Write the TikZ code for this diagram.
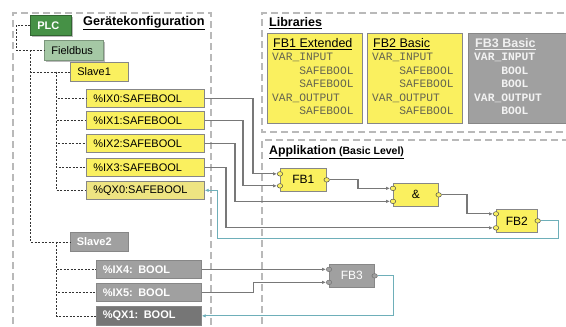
\documentclass[tikz,border=0pt]{standalone}
\usepackage{fontspec}
\setmainfont{Liberation Sans}
\setmonofont{Liberation Mono}
\usetikzlibrary{arrows.meta,shapes.geometric,shadows,calc}
\definecolor{yel}{RGB}{250,240,95}
\definecolor{yelq}{RGB}{238,228,130}
\definecolor{bord}{RGB}{135,135,135}
\definecolor{plcg}{RGB}{70,145,70}
\definecolor{fbg}{RGB}{165,200,165}
\definecolor{gbox}{RGB}{160,160,160}
\definecolor{gdark}{RGB}{118,118,118}
\definecolor{framec}{RGB}{185,185,185}
\definecolor{wirec}{RGB}{120,120,120}
\definecolor{cyanw}{RGB}{110,175,185}
\definecolor{codec}{RGB}{100,100,80}
\begin{document}
\begin{tikzpicture}[x=1pt,y=-1pt,
  frame/.style={draw=framec,line width=1.8pt,dash pattern=on 7pt off 4pt},
  tree/.style={draw=black!80,line width=0.6pt,dash pattern=on 2pt off 1.5pt},
  cfg/.style={rectangle,draw=bord,line width=0.7pt,anchor=north west,inner xsep=7pt,inner ysep=0pt,align=left,font=\fontsize{11}{12}\selectfont},
  ycfg/.style={cfg,fill=yel},
  gcfg/.style={cfg,fill=gbox,text=white,font=\fontsize{11}{12}\selectfont\bfseries,inner xsep=6.5pt},
  fbblock/.style={rectangle,draw=bord,line width=0.7pt,anchor=north west,inner sep=0pt,font=\fontsize{12}{14}\selectfont},
  fbpin/.style={ellipse,draw=black!70,fill=yel,line width=0.5pt,minimum width=5.5pt,minimum height=4.5pt,inner sep=0pt},
  gpin/.style={fbpin,fill=gbox,draw=black!55},
  wire/.style={draw=wirec,line width=1.1pt,-{Latex[length=4pt,width=3.5pt]}},
  cwire/.style={draw=cyanw,line width=1.1pt,-{Latex[length=4pt,width=3.5pt]}},
  libbox/.style={rectangle,draw=bord,line width=0.7pt,anchor=north west,inner sep=0pt},
  code/.style={anchor=north west,inner sep=0pt,align=left,font=\fontsize{11.3}{13.5}\selectfont\ttfamily}
]
\useasboundingbox (0,0) rectangle (566,327);
% frames
\draw[frame] (13,335) -- (13,13) -- (211,13) -- (211,335);
\draw[frame] (575,13) -- (262,13) -- (262,132) -- (575,132);
\draw[frame] (262,335) -- (262,140) -- (575,140);
% titles
\node[anchor=west,inner sep=0pt,font=\fontsize{12.7}{14}\selectfont\bfseries] (tgk) at (83,23) {\underline{Gerätekonfiguration}};
\node[anchor=west,inner sep=0pt,font=\fontsize{12.5}{14}\selectfont\bfseries] (tlib) at (269,23) {\underline{Libraries}};
\node[anchor=west,inner sep=0pt] (tapp) at (269,152) {\underline{\fontsize{12.3}{14}\selectfont\bfseries Applikation\hspace{3pt}\fontsize{10.5}{12}\selectfont (Basic Level)}};
% config tree
\node[cfg,fill=plcg,draw=plcg!70!black,text=white,font=\fontsize{11}{12}\selectfont\bfseries,text width=27pt,minimum height=20pt,drop shadow={shadow xshift=1.5pt,shadow yshift=-1.5pt,fill=black!45,opacity=0.6}] (plc) at (30,15) {PLC};
\node[cfg,fill=fbg,draw=fbg!75!black,text width=45pt,minimum height=20pt,drop shadow={shadow xshift=1.5pt,shadow yshift=-1.5pt,fill=black!45,opacity=0.6}] (fb) at (44,40) {Fieldbus};
\node[ycfg,text width=44pt,minimum height=19pt] (s1) at (70,62) {Slave1};
\node[ycfg,text width=104pt,minimum height=18pt] (ix0) at (86,89) {\%IX0:SAFEBOOL};
\node[ycfg,text width=104pt,minimum height=18pt] (ix1) at (86,111) {\%IX1:SAFEBOOL};
\node[ycfg,text width=104pt,minimum height=18pt] (ix2) at (86,134) {\%IX2:SAFEBOOL};
\node[ycfg,text width=104pt,minimum height=18pt] (ix3) at (86,158) {\%IX3:SAFEBOOL};
\node[ycfg,fill=yelq,text width=104pt,minimum height=18pt] (qx0) at (86,181) {\%QX0:SAFEBOOL};
\node[gcfg,text width=45pt,minimum height=19pt] (s2) at (70,232) {Slave2};
\node[gcfg,text width=92pt,minimum height=18pt] (ix4) at (96,260) {\%IX4: BOOL};
\node[gcfg,text width=92pt,minimum height=18pt] (ix5) at (96,283) {\%IX5: BOOL};
\node[gcfg,fill=gdark,text width=92pt,minimum height=19pt] (qx1) at (96,306) {\%QX1: BOOL};
% tree lines
\draw[tree] (plc.west) -- ++(-14,0) |- (fb.west);
\draw[tree] ([xshift=-14pt]fb.west) |- (s1.west);
\draw[tree] ([xshift=-14pt]fb.west) |- (s2.west);
\foreach \n in {ix0,ix1,ix2,ix3,qx0} \draw[tree] ([xshift=-14pt]s1.west) |- (\n.west);
\foreach \n in {ix4,ix5,qx1} \draw[tree] ([xshift=-14pt]s2.west) |- (\n.west);
% libraries
\node[libbox,fill=yel,minimum width=95pt,minimum height=90pt] (lib1) at (267,33) {};
\node[libbox,fill=yel,minimum width=95pt,minimum height=90pt] (lib2) at (367,33) {};
\node[libbox,fill=gbox,minimum width=100pt,minimum height=90pt] (lib3) at (468,33) {};
\node[anchor=west,inner sep=0pt,font=\fontsize{12.5}{14}\selectfont] (lib1t) at (273,44) {\underline{FB1 Extended}};
\node[anchor=west,inner sep=0pt,font=\fontsize{12.5}{14}\selectfont] (lib2t) at (373,44) {\underline{FB2 Basic}};
\node[anchor=west,inner sep=0pt,font=\fontsize{12.5}{14}\selectfont\bfseries,text=white!94!black] (lib3t) at (475,44) {\underline{FB3 Basic}};
\node[code,text=codec] (lib1c) at (272,53) {VAR\_INPUT\\\phantom{xxxx}SAFEBOOL\\\phantom{xxxx}SAFEBOOL\\VAR\_OUTPUT\\\phantom{xxxx}SAFEBOOL};
\node[code,text=codec] (lib2c) at (372,53) {VAR\_INPUT\\\phantom{xxxx}SAFEBOOL\\\phantom{xxxx}SAFEBOOL\\VAR\_OUTPUT\\\phantom{xxxx}SAFEBOOL};
\node[code,text=white!95!black,font=\fontsize{11.3}{13.5}\selectfont\ttfamily\bfseries] (lib3c) at (474,53) {VAR\_INPUT\\\phantom{xxxx}BOOL\\\phantom{xxxx}BOOL\\VAR\_OUTPUT\\\phantom{xxxx}BOOL};
% function blocks
\node[fbblock,fill=yel,minimum width=46pt,minimum height=23pt] (fb1) at (280,168) {FB1};
\node[fbblock,fill=yel,minimum width=45pt,minimum height=23pt] (and) at (393,183) {\&};
\node[fbblock,fill=yel,minimum width=41pt,minimum height=23pt] (fb2) at (496,209) {FB2};
\node[fbblock,fill=gbox,text=white,minimum width=45pt,minimum height=23pt] (fb3) at (329,264) {FB3};
\node[fbpin] (fb1a) at ([yshift=6pt]fb1.west) {};
\node[fbpin] (fb1b) at ([yshift=-6pt]fb1.west) {};
\node[fbpin] (fb1o) at (fb1.east) {};
\node[fbpin] (and1) at ([yshift=6.5pt]and.west) {};
\node[fbpin] (and2) at ([yshift=-6.5pt]and.west) {};
\node[fbpin] (ando) at (and.east) {};
\node[fbpin] (fb2a) at ([yshift=7pt]fb2.west) {};
\node[fbpin] (fb2b) at ([yshift=-7pt]fb2.west) {};
\node[fbpin] (fb2o) at (fb2.east) {};
\node[gpin] (fb3a) at ([yshift=6.5pt]fb3.west) {};
\node[gpin] (fb3b) at ([yshift=-6.5pt]fb3.west) {};
\node[gpin] (fb3o) at (fb3.east) {};
% wires
\draw[wire] (ix0.east) -| ([xshift=-24pt]fb1a.west) -- (fb1a.west);
\draw[wire] (ix1.east) -| ([xshift=-34pt]fb1b.west) -- (fb1b.west);
\draw[wire] (ix2.east) -| ([xshift=-155pt]and2.west) -- (and2.west);
\draw[wire] (ix3.east) -| ([xshift=-267pt]fb2b.west) -- (fb2b.west);
\draw[wire] (fb1o.east) -| ([xshift=-32pt]and1.west) -- (and1.west);
\draw[wire] (ando.east) -| ([xshift=-26pt]fb2a.west) -- (fb2a.west);
\draw[cwire] (fb2o.east) -- ++(18,0) -- ++(0,18) -| ([xshift=13pt]qx0.east) -- (qx0.east);
\draw[wire] (ix4.east) -- (fb3a.west);
\draw[wire] (ix5.east) -- ++(52,0) |- (fb3b.west);
\draw[cwire] (fb3o.east) -- ++(16,0) |- (qx1.east);
\end{tikzpicture}
\end{document}
